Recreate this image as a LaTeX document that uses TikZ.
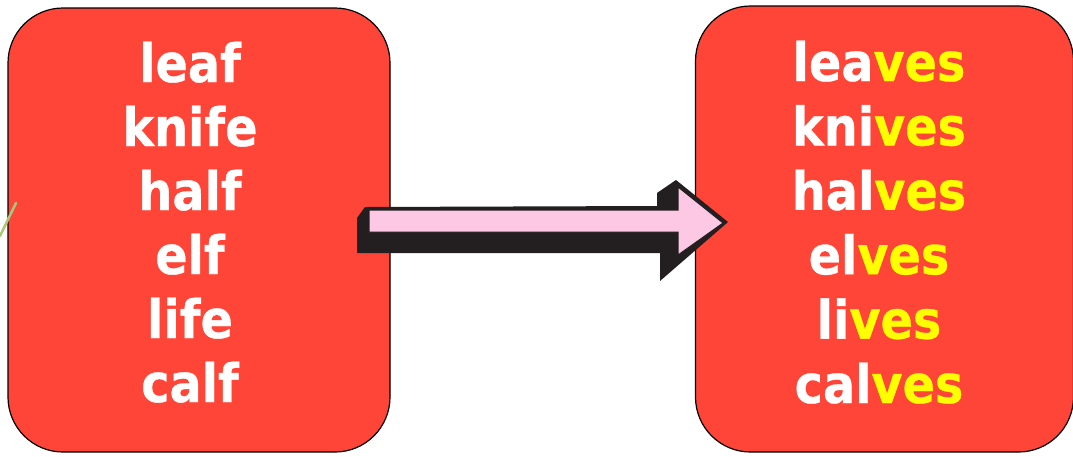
\documentclass[tikz,border=0pt]{standalone}
\usepackage{fontspec}
\setmainfont{DejaVu Sans}[FakeStretch=0.9,BoldFeatures={FakeBold=0.6}]
\definecolor{boxred}{HTML}{FF4538}
\definecolor{vesyellow}{HTML}{FFFF00}
\definecolor{arrowpink}{HTML}{FCC8E4}
\definecolor{shadowblack}{HTML}{231F20}
\definecolor{strokegreen}{HTML}{A9C77A}
\begin{document}
\begin{tikzpicture}[
			x=1pt,y=-1pt,
			wordbox/.style={draw=black,line width=1.2pt,fill=boxred,rounded corners=55pt,inner sep=0pt},
			word/.style={anchor=base,text=white,inner sep=0pt,font=\fontsize{53}{60}\selectfont\bfseries}
		]
		\useasboundingbox (0,0) rectangle (1073,456);
		% the two boxes
		\node[wordbox,minimum width=382pt,minimum height=444pt] (singular) at (199,230) {};
		\node[wordbox,minimum width=378pt,minimum height=446pt] (plural) at (884.5,229) {};
		\draw[strokegreen,line width=2.5pt,line cap=round] (0,236) -- (16,203);
		% words
		\foreach \w [count=\i] in {leaf,knife,half,elf,life,calf}
			\node[word] (sg\i) at (190,{82+64*(\i-1)}) {\w};
		\foreach \stem [count=\i] in {lea,kni,hal,el,li,cal}
			\node[word] (pl\i) at (879,{81+64.4*(\i-1)}) {\stem\textcolor{vesyellow}{ves}};
		% block arrow
		\fill[shadowblack] (357,218) -- (365,207) -- (657,206) -- (657,193) -- (676,180)
			-- (728,222) -- (660,281) -- (660,253) -- (357,253) -- cycle;
		\draw[fill=arrowpink,draw=shadowblack,line width=1pt] (369,210) -- (678,210) -- (678,187)
			-- (723,223) -- (678,255) -- (678,232) -- (369,232) -- cycle;
	\end{tikzpicture}
\end{document}
